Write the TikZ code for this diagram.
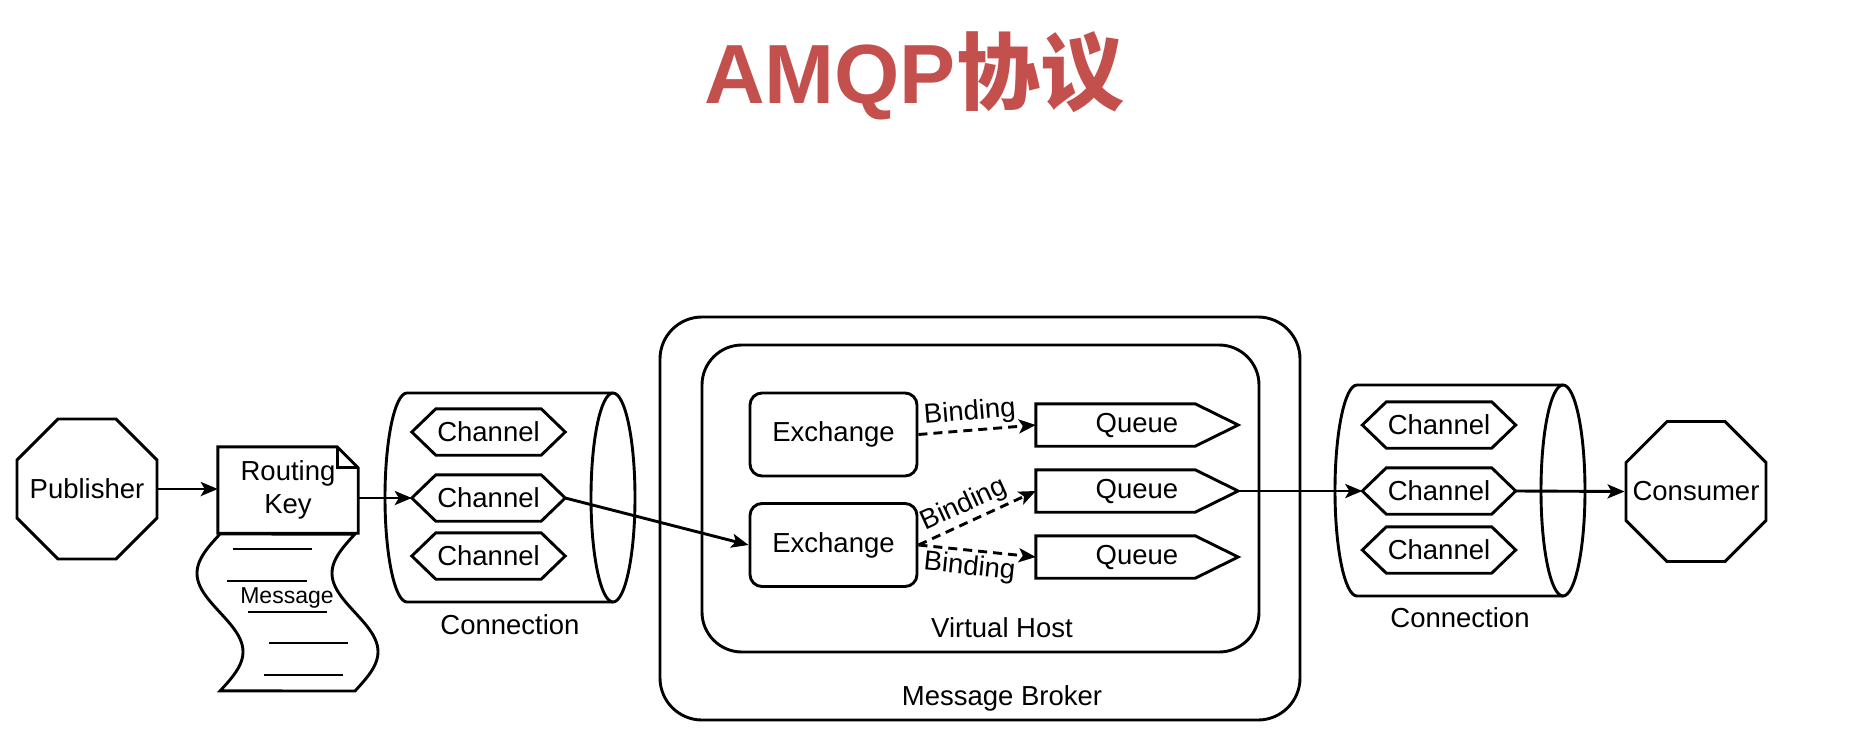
\documentclass[tikz,border=0pt]{standalone}
\usepackage{fontspec}
\setmainfont{Liberation Sans}
\newfontfamily\cjk{Noto Sans CJK SC}
\usetikzlibrary{shapes.geometric,arrows.meta,calc}
\definecolor{titlered}{RGB}{196,80,77}
\tikzset{
  base/.style={line width=2.9pt},
  txt/.style={font=\fontsize{27.5}{33}\selectfont, inner sep=0pt},
  arr/.style={line width=2.9pt, -{Stealth[length=17pt,width=14pt,inset=4pt]}},
  bind/.style={arr, dash pattern=on 9pt off 6pt},
  oct/.style={regular polygon, regular polygon sides=8,
    minimum size=151.5pt, draw, line width=2.9pt, inner sep=0pt},
  chanbox/.style={txt, minimum width=153pt, minimum height=46pt},
  queuebox/.style={txt, minimum width=202pt, minimum height=42pt},
  exch/.style={txt, draw, line width=2.9pt, rounded corners=12pt, minimum width=167pt, minimum height=83pt},
  container/.style={draw, line width=2.9pt, inner sep=0pt},
  blabel/.style={txt, inner sep=3pt, pos=0.45, sloped},
}
\newcommand\hexborder[1]{\draw[base, line join=miter] (#1.west) -- ([xshift=24pt]#1.north west) -- ([xshift=-24pt]#1.north east) -- (#1.east) -- ([xshift=-24pt]#1.south east) -- ([xshift=24pt]#1.south west) -- cycle;}
\newcommand\queueborder[1]{\draw[base, line join=miter] (#1.north west) -- ([xshift=-43pt]#1.north east) -- (#1.east) -- ([xshift=-43pt]#1.south east) -- (#1.south west) -- cycle;}
\begin{document}
\begin{tikzpicture}[x=1pt, y=-1pt]
\useasboundingbox (0,0) rectangle (1856,742);

% title
\node[anchor=base, text=titlered, inner sep=0pt, font=\fontsize{84}{84}\selectfont\bfseries] (title) at (914,103) {AMQP{\cjk 协议}};

% publisher
\node[oct, label={[txt]center:Publisher}] (pub) at (87,489) {};

% message sheet
\draw[base, fill=white] plot[domain=0:1, samples=60] ({220-23*sin(360*\x)},{534+157*\x})
  -- plot[domain=1:0, samples=60] ({355-23*sin(360*\x)},{534+157*\x}) -- cycle;
\draw[base] (233,549) -- (312,549);
\draw[base] (227,581) -- (307,581);
\draw[base] (248,612) -- (327,612);
\draw[base] (269,643) -- (348,643);
\draw[base] (264,675) -- (343,675);
\node[inner sep=0pt, font=\fontsize{23}{23}\selectfont] (msg) at (287,598) {Message};

% routing key document
\node[txt, minimum width=140pt, minimum height=86pt, align=center] (rk) at (288,490) {Routing\\Key};
\draw[base, line join=miter] (rk.south west) -- (rk.north west) -- ([xshift=-21pt]rk.north east) -- ([yshift=-21pt]rk.north east) -- (rk.south east) -- cycle;
\draw[base, line join=miter] ([xshift=-21pt]rk.north east) -- ([xshift=-21pt,yshift=-21pt]rk.north east) -- ([yshift=-21pt]rk.north east);

% left connection cylinder
\draw[base] (613,393) -- (407,393) arc[start angle=90, end angle=270, x radius=22pt, y radius=104.5pt] -- (613,602);
\draw[base] (613,497.5) ellipse [x radius=22pt, y radius=104.5pt];
\node[chanbox] (lch1) at (488.5,432) {Channel};
\node[chanbox] (lch2) at (488.5,498) {Channel};
\node[chanbox] (lch3) at (488.5,556) {Channel};
\hexborder{lch1}\hexborder{lch2}\hexborder{lch3}
\node[txt] (lconn) at (510,625) {Connection};

% broker and virtual host
\node[container, rounded corners=42pt, minimum width=640pt, minimum height=403pt] (broker) at (980,518.5) {};
\node[txt] (brokerlbl) at (1002,698) {Message Broker};
\node[container, rounded corners=40pt, minimum width=557pt, minimum height=307pt] (vhost) at (980.5,498.5) {};
\node[txt] (vhostlbl) at (1002,628) {Virtual Host};

\node[exch] (ex1) at (833.5,434.5) {Exchange};
\node[exch] (ex2) at (833.5,545) {Exchange};

\node[queuebox] (q1) at (1137,425) {Queue};
\node[queuebox] (q2) at (1137,491) {Queue};
\node[queuebox] (q3) at (1137,557) {Queue};
\queueborder{q1}\queueborder{q2}\queueborder{q3}

% right connection cylinder
\draw[base] (1563,385) -- (1357,385) arc[start angle=90, end angle=270, x radius=22pt, y radius=105.5pt] -- (1563,596);
\draw[base] (1563,490.5) ellipse [x radius=22pt, y radius=105.5pt];
\node[chanbox] (rch1) at (1439,425) {Channel};
\node[chanbox] (rch2) at (1439,491) {Channel};
\node[chanbox] (rch3) at (1439,550) {Channel};
\hexborder{rch1}\hexborder{rch2}\hexborder{rch3}
\node[txt] (rconn) at (1460,618) {Connection};

% consumer
\node[oct, label={[txt]center:Consumer}] (con) at (1696,491.5) {};

% connectors
\draw[arr] (pub.0) -- (pub.0 -| rk.west);
\draw[arr] (lch2.west -| rk.east) -- (lch2.west);
\draw[arr] (lch2.east) -- (ex2.west);
\draw[bind] (ex1.east) -- node[blabel, above] {Binding} (q1.west);
\draw[bind] (ex2.east) -- node[blabel, above] {Binding} (q2.west);
\draw[bind] (ex2.east) -- node[blabel, below] {Binding} (q3.west);
\draw[arr] (q2.east) -- (rch2.west);
\draw[arr] (rch2.east) -- (con.180);
\end{tikzpicture}
\end{document}
